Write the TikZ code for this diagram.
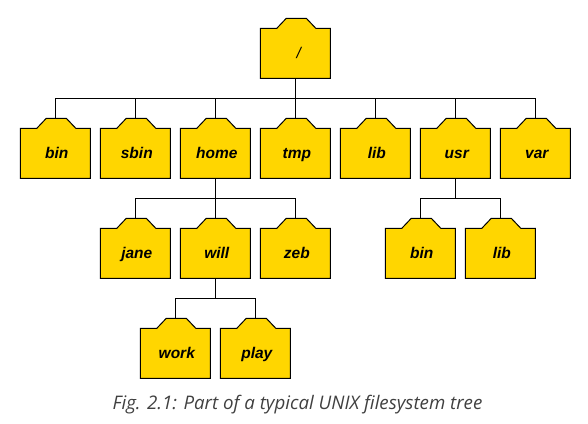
\documentclass[tikz,border=0pt]{standalone}
\usepackage{fontspec}
\setmainfont{Liberation Sans}
\newfontfamily\capfont{Open Sans}
\definecolor{folderfill}{RGB}{255,214,0}
\tikzset{
  folder/.style={minimum width=70pt,minimum height=60pt,inner sep=0pt,outer sep=0pt,anchor=center},
  foldertext/.style={inner sep=0pt,outer sep=0pt,anchor=base,
    font=\fontsize{15.5}{17}\selectfont\bfseries\itshape,text=black},
  folderline/.style={draw=black,fill=folderfill,line width=1pt,line join=miter},
  link/.style={draw=black,line width=1pt},
  captiontext/.style={font=\capfont\itshape\fontsize{18.7}{22}\selectfont,text=black!75,inner sep=0pt}
}
% name, centre x, centre y (pixels, y down), label
\newcommand{\folderbox}[4]{%
  \path[folderline] (#2-35,#3+30) -- (#2-35,#3-20) -- (#2-18.5,#3-20) -- (#2-9,#3-30)
    -- (#2+11,#3-30) -- (#2+20.5,#3-20) -- (#2+35,#3-20) -- (#2+35,#3+30) -- cycle;
  \node[folder] (#1) at (#2,#3) {};
  \node[foldertext] (#1text) at (#2+1.5,#3+10) {#4};
  \coordinate (#1top) at (#2,#3-30);
  \coordinate (#1bot) at (#2,#3+30);
}
\begin{document}
\begin{tikzpicture}[x=1pt,y=-1pt]
\useasboundingbox (0,0) rectangle (588,423);
\folderbox{root}{295.3}{48.3}{\mdseries\hspace{4pt}/}
\folderbox{bin}{55.3}{148.3}{bin}
\folderbox{sbin}{135.3}{148.3}{sbin}
\folderbox{home}{215.3}{148.3}{home}
\folderbox{tmp}{295.3}{148.3}{tmp}
\folderbox{lib}{375.3}{148.3}{lib}
\folderbox{usr}{455.3}{148.3}{usr}
\folderbox{var}{535.3}{148.3}{var}
\folderbox{jane}{135.3}{248.3}{jane}
\folderbox{will}{215.3}{248.3}{will}
\folderbox{zeb}{295.3}{248.3}{zeb}
\folderbox{ubin}{420.3}{248.3}{bin}
\folderbox{ulib}{500.3}{248.3}{lib}
\folderbox{work}{175.3}{348.3}{work}
\folderbox{play}{255.3}{348.3}{play}
\foreach \c in {bin,sbin,home,tmp,lib,usr,var}
  \draw[link] (rootbot) -- ++(0,20) -| (\c top);
\foreach \c in {jane,will,zeb}
  \draw[link] (homebot) -- ++(0,20) -| (\c top);
\foreach \c in {ubin,ulib}
  \draw[link] (usrbot) -- ++(0,20) -| (\c top);
\foreach \c in {work,play}
  \draw[link] (willbot) -- ++(0,20) -| (\c top);
\node[captiontext] (caption) at (297.5,405) {Fig. 2.1: Part of a typical UNIX filesystem tree};
\end{tikzpicture}
\end{document}
